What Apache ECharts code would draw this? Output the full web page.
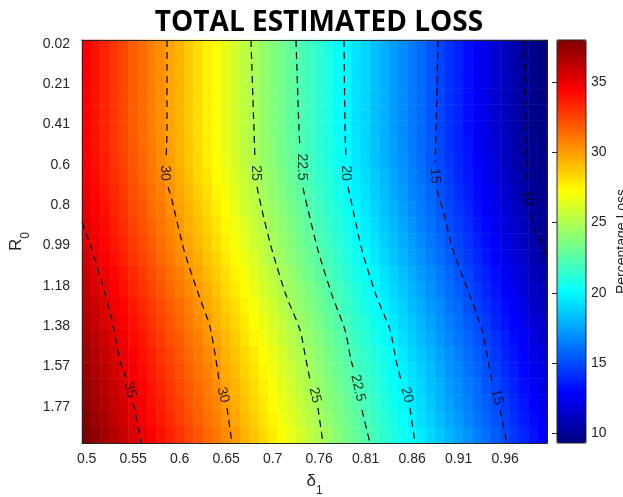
<!DOCTYPE html>
<html><head><meta charset="utf-8">
<script src="https://cdn.jsdelivr.net/npm/echarts@6/dist/echarts.min.js"></script>
<style>html,body{margin:0;padding:0;background:#fff}#c{width:623px;height:497px}</style>
</head><body><div id="c"></div>
<script>
// ---- tick labels ----
const deltaTickLabels = ['0.5','0.55','0.6','0.65','0.7','0.76','0.81','0.86','0.91','0.96'];
const r0TickLabels = ['0.02','0.21','0.41','0.6','0.8','0.99','1.18','1.38','1.57','1.77'];
const tickEvery = 5;

// ---- delta_1 samples (heatmap columns) and R0 cell centres (heatmap rows) ----
const deltaSamples = ['0.500','0.510','0.520','0.531','0.541','0.551','0.561','0.571','0.582','0.592','0.602','0.612','0.622','0.633','0.643','0.653','0.663','0.673','0.684','0.694','0.704','0.714','0.724','0.735','0.745','0.755','0.765','0.776','0.786','0.796','0.806','0.816','0.827','0.837','0.847','0.857','0.867','0.878','0.888','0.898','0.908','0.918','0.929','0.939','0.949','0.959','0.969','0.980','0.990','1.000'];
const r0Centers = ['0.039','0.117','0.195','0.272','0.350','0.427','0.505','0.583','0.660','0.738','0.815','0.893','0.971','1.048','1.126','1.203','1.281','1.359','1.436','1.514','1.591','1.669','1.747','1.824','1.902'];
const r0SampleCount = 50;

// ---- total estimated loss (%), one row per R0 centre, one value per delta_1 sample ----
const lossValues = [
 [34.4,33.9,33.4,32.9,32.4,31.8,31.4,30.8,30.4,29.8,29.3,28.7,28.2,27.6,27.1,26.5,26.0,25.4,24.9,24.3,23.8,23.3,22.8,22.3,21.8,21.3,20.8,20.3,19.9,19.3,18.9,18.3,17.9,17.3,16.9,16.3,15.9,15.3,14.8,14.3,13.8,13.2,12.7,12.2,11.6,11.1,10.6,10.1,9.7,9.4],
 [34.4,33.9,33.4,32.9,32.4,31.8,31.4,30.8,30.4,29.8,29.3,28.7,28.2,27.6,27.1,26.5,26.0,25.4,24.9,24.3,23.8,23.3,22.8,22.3,21.8,21.3,20.8,20.3,19.9,19.3,18.9,18.3,17.9,17.3,16.9,16.3,15.9,15.3,14.8,14.3,13.8,13.2,12.7,12.2,11.6,11.1,10.6,10.1,9.7,9.4],
 [34.4,33.9,33.4,32.9,32.4,31.8,31.4,30.8,30.4,29.8,29.3,28.7,28.2,27.6,27.1,26.5,26.0,25.4,24.9,24.3,23.8,23.3,22.8,22.3,21.8,21.3,20.8,20.3,19.9,19.3,18.9,18.3,17.9,17.3,16.9,16.3,15.9,15.3,14.8,14.3,13.8,13.2,12.7,12.2,11.6,11.1,10.6,10.1,9.7,9.4],
 [34.4,33.9,33.4,32.9,32.4,31.8,31.4,30.8,30.4,29.8,29.3,28.7,28.2,27.6,27.1,26.5,26.0,25.4,24.9,24.3,23.8,23.3,22.8,22.3,21.8,21.3,20.8,20.3,19.9,19.3,18.9,18.3,17.9,17.3,16.9,16.3,15.9,15.3,14.8,14.3,13.8,13.2,12.7,12.2,11.6,11.1,10.6,10.1,9.7,9.4],
 [34.4,33.9,33.4,32.9,32.4,31.8,31.4,30.8,30.4,29.8,29.3,28.7,28.2,27.6,27.1,26.5,26.0,25.4,24.9,24.3,23.8,23.3,22.8,22.3,21.8,21.3,20.8,20.3,19.9,19.3,18.9,18.3,17.9,17.3,16.9,16.3,15.9,15.3,14.8,14.3,13.8,13.2,12.7,12.2,11.6,11.1,10.6,10.1,9.7,9.4],
 [34.4,33.9,33.4,32.9,32.4,31.8,31.4,30.8,30.4,29.8,29.3,28.7,28.2,27.6,27.1,26.5,26.0,25.4,24.9,24.3,23.8,23.3,22.8,22.3,21.8,21.3,20.8,20.3,19.9,19.3,18.9,18.3,17.9,17.3,16.9,16.3,15.9,15.3,14.8,14.3,13.8,13.2,12.7,12.2,11.6,11.1,10.6,10.1,9.7,9.4],
 [34.4,33.9,33.4,32.9,32.4,31.9,31.4,30.9,30.4,29.9,29.3,28.8,28.2,27.6,27.1,26.5,26.0,25.4,24.9,24.4,23.9,23.3,22.8,22.3,21.8,21.3,20.9,20.4,19.9,19.4,18.9,18.4,17.9,17.4,16.9,16.4,15.9,15.4,14.9,14.3,13.8,13.3,12.7,12.2,11.7,11.2,10.6,10.1,9.8,9.5],
 [34.5,34.0,33.5,33.0,32.5,32.0,31.5,31.0,30.5,29.9,29.4,28.8,28.3,27.7,27.2,26.6,26.1,25.5,25.0,24.4,23.9,23.4,22.9,22.4,21.9,21.4,20.9,20.4,20.0,19.4,19.0,18.4,18.0,17.4,17.0,16.4,16.0,15.4,14.9,14.4,13.9,13.4,12.8,12.3,11.8,11.2,10.7,10.2,9.8,9.5],
 [34.6,34.1,33.6,33.1,32.6,32.1,31.6,31.1,30.6,30.1,29.6,29.0,28.4,27.9,27.3,26.8,26.2,25.7,25.1,24.6,24.1,23.6,23.0,22.5,22.0,21.5,21.1,20.6,20.1,19.6,19.1,18.6,18.1,17.6,17.1,16.6,16.1,15.6,15.1,14.6,14.0,13.5,13.0,12.4,11.9,11.4,10.8,10.3,9.9,9.6],
 [34.8,34.3,33.8,33.3,32.8,32.2,31.8,31.2,30.8,30.2,29.7,29.2,28.6,28.1,27.5,27.0,26.4,25.8,25.3,24.7,24.2,23.7,23.2,22.7,22.2,21.7,21.2,20.7,20.3,19.7,19.3,18.7,18.3,17.7,17.3,16.7,16.3,15.7,15.2,14.7,14.2,13.7,13.1,12.6,12.1,11.6,11.0,10.5,10.0,9.7],
 [35.0,34.4,34.0,33.4,33.0,32.4,32.0,31.4,31.0,30.4,29.9,29.4,28.8,28.3,27.7,27.2,26.6,26.0,25.5,24.9,24.4,23.9,23.4,22.9,22.4,21.9,21.4,20.9,20.4,19.9,19.4,18.9,18.4,17.9,17.4,16.9,16.4,15.9,15.4,14.9,14.4,13.9,13.3,12.8,12.3,11.8,11.2,10.7,10.2,9.8],
 [35.2,34.6,34.2,33.6,33.1,32.6,32.1,31.6,31.1,30.6,30.1,29.6,29.0,28.5,27.9,27.4,26.8,26.3,25.7,25.1,24.6,24.1,23.6,23.1,22.6,22.1,21.6,21.1,20.6,20.1,19.6,19.1,18.6,18.1,17.6,17.1,16.6,16.1,15.6,15.1,14.6,14.1,13.5,13.0,12.5,11.9,11.4,10.9,10.4,9.9],
 [35.3,34.8,34.3,33.8,33.3,32.8,32.3,31.8,31.3,30.8,30.3,29.8,29.2,28.7,28.1,27.6,27.0,26.5,25.9,25.4,24.8,24.3,23.8,23.3,22.8,22.2,21.8,21.3,20.8,20.3,19.8,19.3,18.8,18.3,17.8,17.3,16.8,16.3,15.8,15.3,14.8,14.3,13.7,13.2,12.7,12.1,11.6,11.1,10.6,10.0],
 [35.6,35.0,34.6,34.0,33.5,33.0,32.5,32.0,31.5,31.0,30.5,30.0,29.5,28.9,28.4,27.8,27.3,26.7,26.2,25.6,25.0,24.5,24.0,23.5,23.0,22.5,22.0,21.5,21.0,20.5,20.0,19.5,19.0,18.5,18.0,17.5,17.0,16.5,16.0,15.5,15.0,14.5,14.0,13.4,12.9,12.4,11.8,11.3,10.8,10.3],
 [35.8,35.3,34.8,34.3,33.8,33.3,32.8,32.3,31.8,31.3,30.8,30.3,29.8,29.2,28.6,28.1,27.5,27.0,26.4,25.9,25.3,24.8,24.3,23.7,23.2,22.7,22.2,21.7,21.2,20.7,20.3,19.8,19.3,18.8,18.3,17.8,17.3,16.8,16.3,15.8,15.3,14.8,14.2,13.7,13.2,12.6,12.1,11.6,11.0,10.5],
 [36.0,35.5,35.0,34.5,34.0,33.5,33.0,32.5,32.0,31.5,31.0,30.5,30.0,29.5,28.9,28.3,27.8,27.2,26.7,26.1,25.6,25.0,24.5,24.0,23.5,23.0,22.4,22.0,21.5,21.0,20.5,20.0,19.5,19.0,18.5,18.0,17.5,17.0,16.5,16.0,15.5,15.0,14.5,13.9,13.4,12.9,12.3,11.8,11.3,10.8],
 [36.3,35.8,35.3,34.8,34.3,33.8,33.3,32.8,32.3,31.8,31.3,30.8,30.3,29.7,29.2,28.6,28.1,27.5,27.0,26.4,25.9,25.3,24.8,24.2,23.7,23.2,22.7,22.2,21.7,21.2,20.7,20.2,19.8,19.2,18.8,18.2,17.8,17.2,16.8,16.2,15.8,15.2,14.7,14.2,13.7,13.1,12.6,12.1,11.5,11.0],
 [36.5,36.0,35.5,35.0,34.5,34.0,33.5,33.0,32.5,32.0,31.5,31.0,30.5,30.0,29.4,28.9,28.3,27.8,27.2,26.7,26.1,25.6,25.0,24.5,24.0,23.5,22.9,22.4,22.0,21.4,21.0,20.5,20.0,19.5,19.0,18.5,18.0,17.5,17.0,16.5,16.0,15.5,15.0,14.5,13.9,13.4,12.9,12.3,11.8,11.3],
 [36.8,36.2,35.8,35.2,34.8,34.2,33.8,33.2,32.8,32.2,31.8,31.2,30.8,30.2,29.7,29.2,28.6,28.0,27.5,26.9,26.4,25.8,25.3,24.7,24.2,23.7,23.2,22.7,22.2,21.7,21.2,20.7,20.2,19.7,19.2,18.7,18.2,17.7,17.2,16.7,16.2,15.7,15.2,14.7,14.2,13.7,13.1,12.6,12.1,11.5],
 [37.0,36.5,36.0,35.5,35.0,34.5,34.0,33.5,33.0,32.5,32.0,31.5,31.0,30.5,30.0,29.4,28.9,28.3,27.8,27.2,26.7,26.1,25.5,25.0,24.5,24.0,23.4,22.9,22.4,21.9,21.5,20.9,20.5,20.0,19.5,19.0,18.5,18.0,17.5,17.0,16.5,16.0,15.5,15.0,14.4,13.9,13.4,12.8,12.3,11.8],
 [37.2,36.7,36.2,35.7,35.2,34.7,34.2,33.7,33.2,32.7,32.2,31.7,31.2,30.7,30.2,29.6,29.1,28.5,28.0,27.4,26.9,26.3,25.8,25.2,24.7,24.1,23.6,23.1,22.6,22.1,21.6,21.1,20.7,20.1,19.7,19.2,18.7,18.2,17.7,17.1,16.7,16.1,15.7,15.1,14.6,14.1,13.6,13.0,12.5,12.0],
 [37.4,36.9,36.4,35.9,35.4,34.9,34.4,33.9,33.4,32.9,32.4,31.9,31.4,30.9,30.4,29.8,29.3,28.7,28.2,27.6,27.1,26.5,26.0,25.4,24.9,24.3,23.8,23.3,22.8,22.3,21.8,21.3,20.8,20.3,19.9,19.3,18.9,18.3,17.9,17.3,16.9,16.3,15.9,15.3,14.8,14.3,13.8,13.2,12.7,12.2],
 [37.6,37.0,36.6,36.1,35.6,35.0,34.6,34.0,33.6,33.0,32.6,32.0,31.6,31.0,30.6,30.0,29.5,28.9,28.4,27.8,27.3,26.7,26.2,25.6,25.1,24.5,24.0,23.5,23.0,22.5,22.0,21.5,21.0,20.5,20.0,19.5,19.1,18.5,18.0,17.5,17.0,16.5,16.0,15.5,15.0,14.5,14.0,13.4,12.9,12.4],
 [37.8,37.2,36.8,36.2,35.7,35.2,34.7,34.2,33.7,33.2,32.7,32.2,31.7,31.2,30.7,30.2,29.7,29.1,28.6,28.0,27.5,26.9,26.4,25.8,25.3,24.7,24.2,23.7,23.2,22.7,22.2,21.7,21.2,20.7,20.2,19.7,19.2,18.7,18.2,17.7,17.2,16.7,16.2,15.7,15.2,14.7,14.2,13.6,13.1,12.6],
 [38.0,37.5,37.0,36.5,36.0,35.5,35.0,34.5,34.0,33.5,33.0,32.5,32.0,31.5,31.0,30.5,30.0,29.4,28.9,28.3,27.8,27.2,26.6,26.1,25.5,25.0,24.5,23.9,23.4,22.9,22.4,21.9,21.4,20.9,20.5,20.0,19.5,19.0,18.5,18.0,17.5,17.0,16.5,16.0,15.5,14.9,14.4,13.9,13.4,12.8]
];
const lossMin = 9.3;
const lossMax = 38.0;

// ---- contour lines [delta_1, R0], split where the inline labels sit ----
const contour35 = [
 [[0.4949,0.877],[0.5059,1.012],[0.5201,1.219],[0.5289,1.373],[0.5366,1.541],[0.5432,1.628]],
 [[0.5509,1.748],[0.5541,1.806],[0.5596,1.941]]
];
const contour30 = [
 [[0.5882,0.0006],[0.5882,0.434],[0.5871,0.578]],
 [[0.5893,0.708],[0.5936,0.771],[0.6068,1.012],[0.6211,1.204],[0.6353,1.382],[0.6419,1.541],[0.6452,1.637]],
 [[0.6540,1.772],[0.6595,1.941]]
];
const contour25 = [
 [[0.6803,0.0006],[0.6836,0.434],[0.6847,0.578]],
 [[0.6869,0.708],[0.6924,0.819],[0.7034,1.012],[0.7187,1.228],[0.7341,1.397],[0.7407,1.541],[0.7451,1.637]],
 [[0.7538,1.772],[0.7593,1.941]]
];
const contour22_5 = [
 [[0.7297,0.0006],[0.7330,0.434],[0.7341,0.516]],
 [[0.7374,0.713],[0.7429,0.819],[0.7538,1.012],[0.7692,1.228],[0.7835,1.397],[0.7900,1.541],[0.7923,1.575]],
 [[0.8021,1.782],[0.8109,1.941]]
];
const contour20 = [
 [[0.7824,0.0006],[0.7835,0.434],[0.7846,0.578]],
 [[0.7868,0.708],[0.7923,0.819],[0.8021,1.012],[0.8175,1.228],[0.8329,1.397],[0.8394,1.541],[0.8449,1.637]],
 [[0.8548,1.772],[0.8603,1.941]]
];
const contour15 = [
 [[0.8855,0.0006],[0.8833,0.434],[0.8822,0.588]],
 [[0.8844,0.723],[0.8910,0.819],[0.9020,1.012],[0.9195,1.219],[0.9338,1.397],[0.9404,1.541],[0.9448,1.647]],
 [[0.9535,1.782],[0.9612,1.941]]
];
const contour10 = [
 [[0.9799,0.0006],[0.9821,0.434],[0.9832,0.675]],
 [[0.9876,0.843],[0.9930,0.925],[0.9997,0.978],[1.0040,1.031]]
];
const contourLevels = [contour35, contour30, contour25, contour22_5, contour20, contour15, contour10];

// ---- inline contour labels [delta_1, R0, text] ----
const contourLabels = [
 [0.5860,0.641,'30'],[0.6858,0.641,'25'],[0.7363,0.612,'22.5'],[0.7846,0.641,'20'],[0.8822,0.655,'15'],[0.9842,0.761,'10'],
 [0.5476,1.686,'35'],[0.6496,1.710,'30'],[0.7505,1.710,'25'],[0.7977,1.676,'22.5'],[0.8515,1.710,'20'],[0.9502,1.719,'15']
];
const contourLabelAngles = [-90,-90,-90,-90,-88,-78,-75,-75,-77,-78,-75,-75];

// ---- build option ----
const r0Cats = Array.from({length: r0SampleCount}, (_, k) => k % tickEvery === 0 ? r0TickLabels[k / tickEvery] : '');
const everyFifth = (idx) => idx % tickEvery === 0;

const heatData = [];
lossValues.forEach((row, i) => row.forEach((v, k) => heatData.push([k, i, v])));

const deltaStep = 0.5 / 49;
const r0Step = 0.0388;

const AX = '#262626';
const FONT = 'Liberation Sans, Arial, sans-serif';
const jet = ['#00007f','#0000ff','#007fff','#00ffff','#7fff7f','#ffff00','#ff7f00','#ff0000','#7f0000'];

const tickStyle = {inside: true, length: 5, alignWithLabel: true, interval: everyFifth, lineStyle: {color: AX, width: 1}};
const lineStyleAx = {show: true, lineStyle: {color: AX, width: 1}};

const series = [{
  type: 'heatmap', xAxisIndex: 0, yAxisIndex: 2, data: heatData,
  silent: true, animation: false, progressive: 0,
  itemStyle: {borderWidth: 0}
}];
contourLevels.forEach(level => level.forEach(seg => {
  series.push({
    type: 'line', xAxisIndex: 2, yAxisIndex: 3, data: seg, showSymbol: false, symbol: 'none',
    silent: true, animation: false, smooth: 0.25, z: 5,
    lineStyle: {color: '#000', width: 1.2, type: [7, 5]}
  });
}));
series.push({
  type: 'scatter', xAxisIndex: 2, yAxisIndex: 3, silent: true, animation: false, z: 6,
  symbol: 'circle', symbolSize: 1, itemStyle: {color: 'rgba(0,0,0,0)'},
  data: contourLabels.map((d, k) => ({value: [d[0], d[1]], name: d[2], label: {rotate: contourLabelAngles[k]}})),
  label: {show: true, position: 'inside', formatter: '{b}', color: '#000', fontSize: 14, fontFamily: FONT}
});

const option = {
  backgroundColor: '#fff',
  animation: false,
  title: {
    text: 'TOTAL ESTIMATED LOSS', left: 314, top: 4, textAlign: 'center',
    textStyle: {fontFamily: 'Open Sans', fontWeight: 'bold', fontSize: 28, color: '#000'}
  },
  grid: [
    {left: 82, top: 40, width: 465, height: 403, outerBoundsMode: 'none', containLabel: false},
    {left: 557, top: 40, width: 29, height: 403, outerBoundsMode: 'none', containLabel: false,
     show: true, borderColor: AX, borderWidth: 1, backgroundColor: 'transparent', z: 10}
  ],
  xAxis: [
    {type: 'category', gridIndex: 0, position: 'bottom', data: deltaSamples, z: 10,
     axisLine: lineStyleAx, axisTick: tickStyle, splitLine: {show: false},
     axisLabel: {interval: everyFifth, margin: 9, color: AX, fontSize: 14, fontFamily: FONT,
                 formatter: (v, idx) => deltaTickLabels[Math.round(idx / tickEvery)] || ''},
     name: '{d|δ}{s|1}', nameLocation: 'middle', nameGap: 30,
     nameTextStyle: {rich: {
       d: {fontSize: 17, fontFamily: FONT, color: AX, verticalAlign: 'bottom', padding: [0, 0, 7, 0]},
       s: {fontSize: 12, fontFamily: FONT, color: AX, verticalAlign: 'bottom'}}}},
    {type: 'category', gridIndex: 0, position: 'top', data: deltaSamples, z: 10,
     axisLine: lineStyleAx, axisTick: tickStyle, axisLabel: {show: false}, splitLine: {show: false}},
    {type: 'value', gridIndex: 0, min: 0.5 - deltaStep / 2, max: 1 + deltaStep / 2, show: false, splitLine: {show: false}},
    {type: 'value', gridIndex: 1, min: 0, max: 1, show: false, splitLine: {show: false}}
  ],
  yAxis: [
    {type: 'category', gridIndex: 0, position: 'left', inverse: true, data: r0Cats, z: 10,
     axisLine: lineStyleAx, axisTick: tickStyle, splitLine: {show: false},
     axisLabel: {interval: everyFifth, margin: 12, color: AX, fontSize: 14, fontFamily: FONT},
     name: '{r|R}{s|0}', nameLocation: 'middle', nameGap: 45, nameRotate: 90,
     nameTextStyle: {rich: {
       r: {fontSize: 17, fontFamily: FONT, color: AX, verticalAlign: 'bottom', padding: [0, 0, 7, 0]},
       s: {fontSize: 12, fontFamily: FONT, color: AX, verticalAlign: 'bottom'}}}},
    {type: 'category', gridIndex: 0, position: 'right', inverse: true, data: r0Cats, z: 10,
     axisLine: lineStyleAx, axisTick: tickStyle, axisLabel: {show: false}, splitLine: {show: false}},
    {type: 'category', gridIndex: 0, inverse: true, data: r0Centers, show: false},
    {type: 'value', gridIndex: 0, inverse: true, min: 0.02 - r0Step / 2, max: 0.02 + 49 * r0Step + r0Step / 2, show: false, splitLine: {show: false}},
    {type: 'value', gridIndex: 1, position: 'right', min: lossMin, max: lossMax, z: 10,
     axisLine: {show: false}, splitLine: {show: false},
     axisTick: {inside: true, length: 5, lineStyle: {color: AX, width: 1}},
     axisLabel: {margin: 5, color: AX, fontSize: 14, fontFamily: FONT, showMinLabel: false, showMaxLabel: false},
     name: 'Percentage Loss', nameLocation: 'middle', nameGap: 29, nameRotate: 90,
     nameTextStyle: {color: AX, fontSize: 14, fontFamily: FONT}}
  ],
  visualMap: {
    type: 'continuous', seriesIndex: 0, dimension: 2, min: lossMin, max: lossMax,
    calculable: false, hoverLink: false, left: 557, top: 40, padding: 0,
    itemWidth: 29, itemHeight: 403, orient: 'vertical', text: null, showLabel: false,
    inRange: {color: jet}, textStyle: {color: 'transparent'}
  },
  series: series
};

const chart = echarts.init(document.getElementById('c'), null, {renderer: 'canvas'});
chart.setOption(option);
</script>
</body></html>
